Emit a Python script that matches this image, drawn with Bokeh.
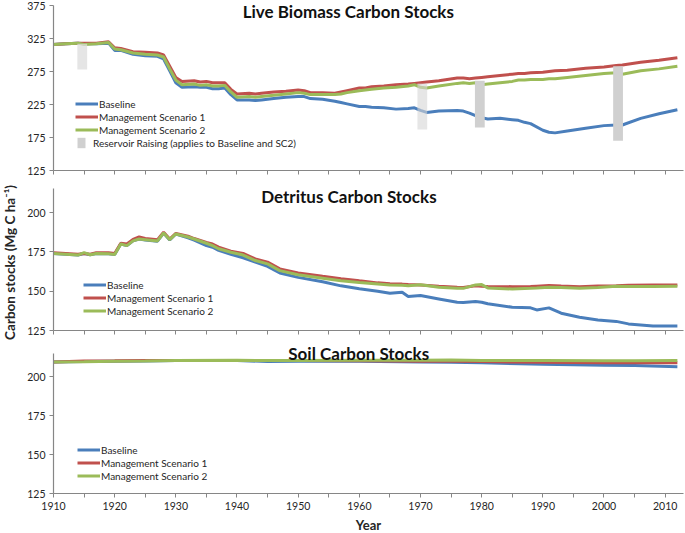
import math
from bokeh.plotting import figure
from bokeh.layouts import column, row
from bokeh.models import FixedTicker, Label, Legend, LegendItem, Range1d
from bokeh.embed import file_html
from bokeh.resources import INLINE

FONT = "Lato"
C_BASE = "#4A7EBB"
C_SC1 = "#C0504D"
C_SC2 = "#9BBB59"
AXIS_C = "#868686"
TXT_C = "#262626"

# ---------------- data ----------------
series_names = ["Baseline", "Management Scenario 1", "Management Scenario 2"]

live_years = [1910, 1912, 1914, 1915, 1917, 1919, 1920, 1921, 1923, 1925, 1927, 1928, 1929,
              1930, 1931, 1933, 1934, 1935, 1936, 1937, 1938, 1939, 1940, 1942, 1943, 1944,
              1946, 1948, 1950, 1951, 1952, 1954, 1956, 1957, 1958, 1960, 1961, 1962, 1964,
              1966, 1968, 1969, 1970, 1971, 1973, 1976, 1977, 1978, 1979, 1980, 1981, 1983,
              1985, 1986, 1987, 1988, 1990, 1991, 1992, 1994, 1997, 2000, 2002, 2003, 2006,
              2009, 2012]
live_base = [316, 317, 318, 317, 317, 318, 307, 307, 301, 299, 298, 294, 276,
             258, 251, 252, 251, 251, 249, 249, 250, 240, 232, 232, 231, 232,
             234, 236, 237, 237, 234, 233, 230, 228, 226, 222, 222, 221, 220,
             218, 219, 220, 216, 213, 215, 216, 215, 212, 208, 205, 203, 204,
             202, 201, 198, 196, 186, 183, 182, 185, 189, 193, 194, 194, 204,
             211, 217]
live_sc1 = [316, 317, 318, 318, 318, 320, 311, 310, 305, 304, 303, 300, 283,
            266, 260, 261, 259, 260, 258, 258, 258, 248, 241, 242, 241, 242,
            244, 245, 247, 246, 243, 243, 242, 244, 246, 250, 250, 252, 253,
            255, 256, 257, 258, 259, 261, 265, 265, 264, 265, 266, 267, 269,
            271, 272, 272, 273, 274, 275, 276, 277, 280, 282, 284, 285, 289,
            292, 296]
live_sc2 = [316, 317, 318, 316, 317, 319, 309, 308, 303, 301, 300, 297, 279,
            262, 255, 256, 254, 255, 253, 253, 254, 244, 236, 237, 236, 237,
            239, 241, 243, 242, 240, 240, 240, 241, 243, 246, 247, 248, 250,
            251, 253, 255, 251, 250, 253, 257, 258, 257, 258, 255, 256, 258,
            260, 262, 262, 263, 263, 264, 264, 266, 269, 272, 273, 271, 276,
            279, 283]

# reservoir raising events (drawn as grey bars)
res_years = [1914.7, 1970.3, 1979.7, 2002.3]
res_top = [317, 257, 261, 283]
res_bottom = [278, 187, 190, 170]
res_colors = ["#dcdcdc", "#d6d6d6", "#d0d0d0", "#d0d0d0"]
res_alpha = [0.75, 0.6, 1.0, 1.0]

det_years = [1910, 1912, 1914, 1915, 1916, 1917, 1919, 1920, 1921, 1922, 1923, 1924, 1925,
             1927, 1928, 1929, 1930, 1932, 1933, 1935, 1936, 1937, 1939, 1941, 1943, 1945,
             1947, 1950, 1954, 1957, 1960, 1963, 1965, 1967, 1968, 1970, 1973, 1976, 1977,
             1979, 1980, 1981, 1985, 1988, 1989, 1991, 1993, 1996, 1999, 2002, 2004, 2008,
             2012]
det_base = [174, 173.5, 173, 174, 173.2, 174, 173.8, 173.3, 180, 179, 182, 183.2, 182.6,
            181.8, 187, 182.6, 186.4, 184, 182.5, 179, 178, 176, 173.5, 171.3, 168.5, 165.8,
            161.6, 158.8, 156, 153.4, 151.5, 150, 148.7, 149.3, 146.6, 147.2, 145.1, 143, 142.8,
            143.4, 143, 142, 139.8, 139.4, 138.1, 139.4, 136, 133.4, 131.7, 130.8, 129.2, 127.9,
            127.9]
det_sc1 = [174.5, 174, 173.5, 174, 173.5, 174.5, 174.5, 174, 180.5, 180, 183, 184.5, 183.5,
           182.8, 187.5, 183.2, 186.8, 185, 183.5, 181, 180, 178, 175.5, 174, 170.5, 168.5,
           164.2, 161.6, 159.5, 158, 156.6, 155.3, 154.7, 154.5, 154.3, 154, 153.1, 152.5, 152.4,
           153.5, 153.2, 153, 152.9, 153, 153.2, 153.6, 153.3, 152.9, 153.3, 153.5, 153.8, 154,
           154]
det_sc2 = [174, 173.5, 173, 174.5, 173.2, 174, 173.8, 173.3, 180, 179, 182, 183.2, 182.8,
           182, 187, 182.8, 186.4, 184.5, 183.2, 180.5, 179, 177, 174.8, 173, 169.5, 167.4,
           163.1, 160.5, 158.3, 156.6, 155.5, 154.6, 154, 153.8, 153.4, 154.1, 152.5, 151.8, 151.8,
           154, 154.2, 152.1, 151.4, 151.8, 152, 152.5, 152.3, 151.8, 152.4, 153.1, 153, 153,
           153.1]

soil_years = [1910, 1915, 1920, 1925, 1930, 1940, 1945, 1950, 1960, 1970, 1975, 1980, 1990,
              2000, 2005, 2012]
soil_base = [209.5, 209.8, 210, 210.2, 210.5, 210.5, 209.8, 210, 210, 209.5, 209.3, 209, 208,
             207.5, 207.2, 206.5]
soil_sc1 = [209.5, 210.2, 210.3, 210.5, 210.5, 210.5, 210.5, 210.5, 210.3, 210, 210, 209.8,
            209.3, 209, 209, 209]
soil_sc2 = [209.5, 209.6, 210, 210.2, 210.5, 210.6, 210.5, 210.5, 210.6, 210.6, 210.8, 210.5,
            210.4, 210.3, 210.3, 210.4]

x_ticks = [1910, 1920, 1930, 1940, 1950, 1960, 1970, 1980, 1990, 2000, 2010]
x_minor = [1915, 1925, 1935, 1945, 1955, 1965, 1975, 1985, 1995, 2005]
live_yticks = [125, 175, 225, 275, 325, 375]
pool_yticks = [125, 150, 175, 200]

titles = ["Live Biomass Carbon Stocks", "Detritus Carbon Stocks", "Soil Carbon Stocks"]
reservoir_label = "Reservoir Raising (applies to Baseline and SC2)"
y_title = "Carbon stocks (Mg C ha\u207b\u00b9)"
x_title = "Year"

X0, X1 = 1910, 2013
PW = 662
TOTAL_H = 533
H1, H2, H3 = 186, 157, 172


def make_panel(height, yrange, axis_bounds, yticks, border_bottom, show_xlabels):
    p = figure(width=PW, height=height, output_backend="svg", toolbar_location=None,
               x_range=Range1d(X0, X1), y_range=Range1d(*yrange),
               min_border_left=31, min_border_right=1,
               min_border_top=0, min_border_bottom=border_bottom)
    p.outline_line_color = None
    p.grid.visible = False
    p.background_fill_color = "white"
    p.border_fill_color = "white"
    for ax in (p.xaxis[0], p.yaxis[0]):
        ax.axis_line_color = AXIS_C
        ax.axis_line_width = 1.2
        ax.major_tick_line_color = AXIS_C
        ax.minor_tick_line_color = AXIS_C
        ax.major_label_text_font = FONT
        ax.major_label_text_font_size = "10.5px"
        ax.major_label_text_color = TXT_C
        ax.major_tick_in = 0
        ax.major_tick_out = 4
        ax.minor_tick_in = 0
        ax.minor_tick_out = 0
    if show_xlabels:
        p.xaxis.ticker = FixedTicker(ticks=x_ticks, minor_ticks=x_minor)
    else:
        # tick marks only: every 5 years, no labels
        p.xaxis.ticker = FixedTicker(ticks=[], minor_ticks=sorted(x_ticks + x_minor))
    p.xaxis.minor_tick_out = 4
    p.xaxis.major_label_standoff = 4
    p.yaxis.ticker = FixedTicker(ticks=yticks)
    p.yaxis.major_label_standoff = 4
    p.yaxis.bounds = axis_bounds
    return p


def add_lines(p, years, b, s1, s2):
    rs = []
    for vals, col in ((b, C_BASE), (s1, C_SC1), (s2, C_SC2)):
        rs.append(p.line(years, vals, line_color=col, line_width=3))
    return rs


def style_legend(leg, gw):
    leg.border_line_color = None
    leg.background_fill_alpha = 0
    leg.padding = 0
    leg.margin = 0
    leg.spacing = 0
    leg.glyph_width = gw
    leg.glyph_height = 13
    leg.label_height = 13
    leg.label_standoff = 1
    leg.label_text_font = FONT
    leg.label_text_font_size = "10px"
    leg.label_text_color = TXT_C
    leg.label_text_baseline = "middle"


def add_legend(p, renderers, loc):
    leg = Legend(items=[LegendItem(label=n, renderers=[r]) for n, r in zip(series_names, renderers)],
                 location=loc, orientation="vertical")
    style_legend(leg, 23)
    p.add_layout(leg)
    return leg


def add_title(p, text, x, y, yoff):
    p.add_layout(Label(x=x, y=y, text=text, text_font=FONT, text_font_style="bold",
                       text_font_size="17px", text_align="center", text_baseline="top",
                       text_color="#111111", y_offset=yoff))


# ---------------- panel 1 : live biomass ----------------
# frame spans 0..170 px; axis drawn from 125 to 375
p1 = make_panel(H1, (125, 382.6), (125, 375), live_yticks, 16, False)
r1 = add_lines(p1, live_years, live_base, live_sc1, live_sc2)
bars = p1.vbar(x=res_years, width=1.6, top=res_top, bottom=res_bottom,
               fill_color=res_colors, fill_alpha=res_alpha, line_color=None)
add_legend(p1, r1, (22, 34))
leg_r = Legend(items=[LegendItem(label=reservoir_label, renderers=[bars], index=2)],
               location=(23, 21))
style_legend(leg_r, 10)
leg_r.label_standoff = 7
p1.add_layout(leg_r)
add_title(p1, titles[0], 1958.2, 375, 5)

# ---------------- panel 2 : detritus ----------------
p2 = make_panel(H2, (125, 216.6), (125, 215.3), pool_yticks, 13, False)
r2 = add_lines(p2, det_years, det_base, det_sc1, det_sc2)
add_legend(p2, r2, (30, 13))
add_title(p2, titles[1], 1958.3, 215.3, 3)

# ---------------- panel 3 : soil ----------------
p3 = make_panel(H3, (125, 221.4), (125, 215), pool_yticks, 22, True)
r3 = add_lines(p3, soil_years, soil_base, soil_sc1, soil_sc2)
add_legend(p3, r3, (24, 11))
add_title(p3, titles[2], 1959.9, 215, 10)

# ---------------- x title strip ----------------
XH = TOTAL_H - H1 - H2 - H3
px = figure(width=PW, height=XH, output_backend="svg", toolbar_location=None,
            x_range=Range1d(X0, X1), y_range=Range1d(0, XH),
            min_border_left=31, min_border_right=1, min_border_top=0, min_border_bottom=0)
px.axis.visible = False
px.grid.visible = False
px.outline_line_color = None
px.add_layout(Label(x=(X0 + X1) / 2, y=XH / 2, text=x_title, text_font=FONT,
                    text_font_style="bold", text_font_size="13px", text_align="center",
                    text_baseline="middle", text_color=TXT_C))

# ---------------- y title strip ----------------
YW = 22
py = figure(width=YW, height=TOTAL_H, output_backend="svg", toolbar_location=None,
            x_range=Range1d(0, YW), y_range=Range1d(0, TOTAL_H),
            min_border_left=0, min_border_right=0, min_border_top=0, min_border_bottom=0)
py.axis.visible = False
py.grid.visible = False
py.outline_line_color = None
py.add_layout(Label(x=9, y=TOTAL_H - 262, text=y_title, angle=math.pi / 2, text_font=FONT,
                    text_font_style="bold", text_font_size="13.5px", text_align="center",
                    text_baseline="middle", text_color=TXT_C))

layout = row(py, column(p1, p2, p3, px, spacing=0), spacing=0)
open("out.html", "w").write(file_html(layout, INLINE))
